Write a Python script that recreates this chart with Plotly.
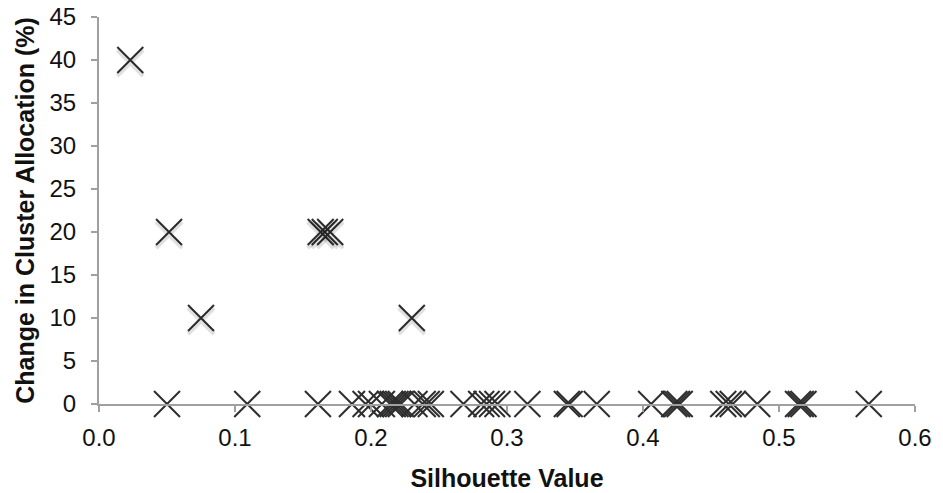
import plotly.graph_objects as go

# Silhouette values and change in cluster allocation (%)
sil_high = [0.023, 0.0515, 0.163, 0.166, 0.170, 0.075, 0.230]
chg_high = [40, 20, 20, 20, 20, 10, 10]

sil_zero = [0.050, 0.109, 0.161, 0.186, 0.196, 0.200, 0.208, 0.214, 0.216, 0.218,
            0.220, 0.222, 0.232, 0.238, 0.241, 0.244, 0.268, 0.281, 0.285, 0.289,
            0.293, 0.315, 0.344, 0.346, 0.366, 0.406, 0.423, 0.425, 0.427, 0.459,
            0.463, 0.466, 0.484, 0.514, 0.516, 0.518, 0.566]
chg_zero = [0] * len(sil_zero)

x_vals = sil_high + sil_zero
y_vals = chg_high + chg_zero

x_ticks = [0.0, 0.1, 0.2, 0.3, 0.4, 0.5, 0.6]
x_tick_labels = ["0.0", "0.1", "0.2", "0.3", "0.4", "0.5", "0.6"]
y_ticks = [0, 5, 10, 15, 20, 25, 30, 35, 40, 45]

fig = go.Figure()
# soft shadow layer (slightly below the marks)
fig.add_trace(go.Scatter(
    x=x_vals, y=y_vals, mode="markers", cliponaxis=False,
    marker=dict(symbol="x-thin-open", size=26, color="rgba(0,0,0,0.12)",
                line=dict(width=4, color="rgba(0,0,0,0.12)")),
    hoverinfo="skip", showlegend=False, yaxis="y2",
))
fig.add_trace(go.Scatter(
    x=x_vals, y=y_vals, mode="markers", cliponaxis=False,
    marker=dict(symbol="x-thin-open", size=26, color="#2e2e2e",
                line=dict(width=2, color="#2e2e2e")),
    showlegend=False,
))

font = "Liberation Sans, Arial, sans-serif"
fig.update_layout(
    width=943, height=493,
    margin=dict(l=99, r=28, t=17, b=89),
    paper_bgcolor="white", plot_bgcolor="white",
    font=dict(family=font, size=20, color="#111111"),
    xaxis=dict(
        range=[0, 0.6], tickvals=x_ticks, ticktext=x_tick_labels, automargin=False,
        showgrid=False, zeroline=False, showline=True, linecolor="#a0a0a0", linewidth=2,
        ticks="outside", ticklen=6, tickcolor="#a0a0a0", tickwidth=2,
        tickfont=dict(size=24, family=font), ticklabelstandoff=5,
        title=dict(text="<b>Silhouette Value</b>", font=dict(size=25, family=font), standoff=20),
    ),
    yaxis=dict(
        range=[0, 45], tickvals=y_ticks, automargin=False,
        showgrid=False, zeroline=False, showline=True, linecolor="#a0a0a0", linewidth=2,
        ticks="outside", ticklen=6, tickcolor="#a0a0a0", tickwidth=2,
        tickfont=dict(size=24, family=font), ticklabelstandoff=10,
        title=dict(text="<b>Change in Cluster Allocation (%)</b>", font=dict(size=25, family=font), standoff=8),
    ),
    yaxis2=dict(range=[0.35, 45.35], overlaying="y", visible=False),
)

fig.write_html("out.html")
